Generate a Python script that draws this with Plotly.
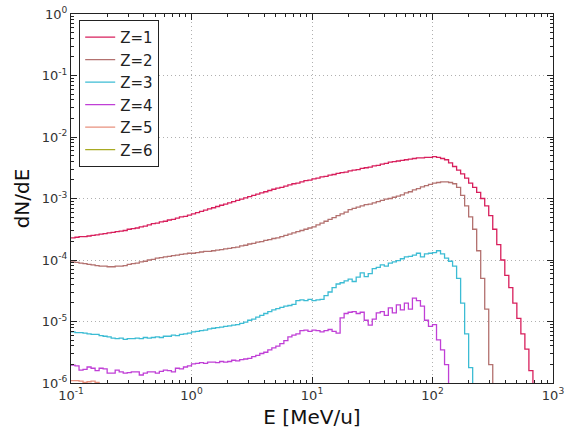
import numpy as np
import plotly.graph_objects as go

# Histogram binning: 30 log-spaced bins per decade from 0.1 to 1000 MeV/u
bin_edges = 10 ** np.linspace(-1, 3, 121)

# log10(dN/dE) per bin; bins after the list are empty
z1_log10 = [
    -3.64, -3.63, -3.62, -3.62, -3.61, -3.60, -3.59, -3.58, -3.57, -3.56,
    -3.55, -3.54, -3.53, -3.52, -3.50, -3.49, -3.48, -3.46, -3.45, -3.43,
    -3.41, -3.40, -3.38, -3.37, -3.35, -3.34, -3.32, -3.30, -3.29, -3.27,
    -3.25, -3.23, -3.21, -3.19, -3.17, -3.15, -3.13, -3.11, -3.09, -3.07,
    -3.05, -3.03, -3.01, -2.99, -2.97, -2.95, -2.93, -2.91, -2.89, -2.87,
    -2.85, -2.83, -2.82, -2.80, -2.78, -2.76, -2.75, -2.73, -2.71, -2.70,
    -2.68, -2.67, -2.65, -2.64, -2.62, -2.61, -2.59, -2.58, -2.57, -2.55,
    -2.54, -2.53, -2.51, -2.50, -2.49, -2.47, -2.46, -2.44, -2.43, -2.41,
    -2.40, -2.39, -2.38, -2.37, -2.36, -2.35, -2.34, -2.34, -2.33, -2.33,
    -2.32, -2.33, -2.35, -2.37, -2.42, -2.48, -2.54, -2.60, -2.67, -2.75,
    -2.82, -2.90, -3.00, -3.12, -3.28, -3.50, -3.75, -4.00, -4.25, -4.45,
    -4.70, -4.95, -5.20, -5.45, -5.80,
]
z2_log10 = [
    -4.03, -4.04, -4.05, -4.06, -4.07, -4.08, -4.09, -4.10, -4.10, -4.11,
    -4.11, -4.10, -4.10, -4.09, -4.07, -4.06, -4.05, -4.03, -4.02, -4.00,
    -3.99, -3.97, -3.96, -3.95, -3.94, -3.93, -3.92, -3.91, -3.90, -3.89,
    -3.89, -3.88, -3.87, -3.86, -3.86, -3.85, -3.84, -3.83, -3.82, -3.81,
    -3.80, -3.79, -3.77, -3.76, -3.74, -3.73, -3.71, -3.70, -3.68, -3.67,
    -3.65, -3.64, -3.62, -3.60, -3.58, -3.56, -3.54, -3.52, -3.50, -3.48,
    -3.46, -3.43, -3.40, -3.37, -3.34, -3.31, -3.28, -3.25, -3.22, -3.18,
    -3.16, -3.14, -3.12, -3.10, -3.09, -3.07, -3.05, -3.03, -3.01, -3.00,
    -2.98, -2.96, -2.94, -2.91, -2.89, -2.86, -2.84, -2.81, -2.79, -2.77,
    -2.75, -2.74, -2.73, -2.73, -2.74, -2.76, -2.82, -2.95, -3.12, -3.30,
    -3.50, -3.85, -4.30, -4.80, -5.70,
]
z3_log10 = [
    -5.17, -5.18, -5.18, -5.19, -5.20, -5.21, -5.21, -5.23, -5.24, -5.25,
    -5.27, -5.28, -5.27, -5.29, -5.28, -5.28, -5.27, -5.28, -5.26, -5.27,
    -5.26, -5.25, -5.26, -5.24, -5.24, -5.22, -5.23, -5.21, -5.20, -5.19,
    -5.17, -5.16, -5.15, -5.14, -5.12, -5.11, -5.10, -5.09, -5.08, -5.07,
    -5.06, -5.05, -5.03, -5.01, -4.98, -4.96, -4.93, -4.90, -4.87, -4.84,
    -4.81, -4.79, -4.77, -4.75, -4.74, -4.72, -4.66, -4.65, -4.66, -4.64,
    -4.66, -4.65, -4.64, -4.58, -4.52, -4.45, -4.39, -4.37, -4.34, -4.31,
    -4.35, -4.28, -4.21, -4.27, -4.22, -4.14, -4.12, -4.08, -4.10, -4.05,
    -4.03, -4.01, -3.98, -3.95, -3.94, -3.92, -3.89, -3.95, -3.90, -3.89,
    -3.88, -3.85, -3.90, -3.97, -4.02, -4.10, -4.30, -4.70, -5.20, -5.75,
]
z4_log10 = [
    -5.71, -5.72, -5.79, -5.78, -5.74, -5.76, -5.80, -5.76, -5.77, -5.84,
    -5.84, -5.79, -5.82, -5.84, -5.83, -5.82, -5.82, -5.87, -5.84, -5.82,
    -5.82, -5.84, -5.81, -5.79, -5.80, -5.82, -5.76, -5.77, -5.74, -5.72,
    -5.69, -5.68, -5.67, -5.68, -5.66, -5.66, -5.67, -5.65, -5.66, -5.65,
    -5.63, -5.64, -5.62, -5.61, -5.60, -5.57, -5.55, -5.52, -5.50, -5.46,
    -5.43, -5.40, -5.36, -5.31, -5.25, -5.22, -5.20, -5.15, -5.14, -5.16,
    -5.14, -5.15, -5.17, -5.15, -5.13, -5.16, -5.19, -4.94, -4.87, -4.85,
    -4.84, -4.87, -4.85, -4.98, -5.06, -4.96, -4.86, -4.84, -4.90, -4.78,
    -4.86, -4.73, -4.81, -4.70, -4.80, -4.62, -4.66, -4.75, -4.98, -5.08,
    -5.05, -5.30, -5.46, -5.70,
]
z5_log10 = [-5.96, -5.96, -5.97, -5.99, -5.98, -5.97, -5.99]
z6_log10 = []

series_names = ["Z=1", "Z=2", "Z=3", "Z=4", "Z=5", "Z=6"]
series_data = [z1_log10, z2_log10, z3_log10, z4_log10, z5_log10, z6_log10]
series_colors = ["#d81f5c", "#b3716f", "#3cbcd4", "#c03fd6", "#e8917e", "#a8aa22"]

x_tick_vals = [0.1, 1, 10, 100, 1000]
x_tick_text = ["10<sup>-1</sup>", "10<sup>0</sup>", "10<sup>1</sup>", "10<sup>2</sup>", "10<sup>3</sup>"]
y_tick_vals = [1e-6, 1e-5, 1e-4, 1e-3, 1e-2, 1e-1, 1]
y_tick_text = ["10<sup>-6</sup>", "10<sup>-5</sup>", "10<sup>-4</sup>", "10<sup>-3</sup>",
               "10<sup>-2</sup>", "10<sup>-1</sup>", "10<sup>0</sup>"]

n_bins = len(bin_edges) - 1
fig = go.Figure()
for name, logv, col in zip(series_names, series_data, series_colors):
    vals = np.zeros(n_bins)
    vals[:len(logv)] = 10 ** np.array(logv, dtype=float)
    y = np.where(vals > 0, vals, 1e-12)  # empty bins fall off the log axis
    y = np.append(y, y[-1])
    fig.add_trace(go.Scatter(x=bin_edges, y=y, mode="lines", name=name,
                             line=dict(color=col, width=1.3, shape="hv")))

def minor_vals(lo, hi):
    out = []
    for d in range(lo, hi):
        for m in range(2, 10):
            out.append(m * 10.0 ** d)
    return out

axis_common = dict(
    type="log", showline=True, linecolor="#222", linewidth=1, mirror="allticks",
    ticks="inside", ticklen=6, tickwidth=1, tickcolor="#222",
    showgrid=True, gridcolor="#b0b0b0", griddash="1px,3px", gridwidth=1,
    zeroline=False, tickfont=dict(size=13, color="#333"), automargin=False,
)

fig.update_xaxes(range=[-1, 3], tickvals=x_tick_vals, ticktext=x_tick_text,
                 minor=dict(ticks="inside", ticklen=3, tickcolor="#222",
                            tickvals=minor_vals(-1, 3), showgrid=False),
                 title=dict(text="E [MeV/u]", font=dict(size=20, color="#111"), standoff=8),
                 **axis_common)
fig.update_yaxes(range=[-6, 0], tickvals=y_tick_vals, ticktext=y_tick_text,
                 minor=dict(ticks="inside", ticklen=3, tickcolor="#222",
                            tickvals=minor_vals(-6, 0), showgrid=False),
                 title=dict(text="dN/dE", font=dict(size=20, color="#111"), standoff=6),
                 **axis_common)

fig.update_layout(
    width=565, height=436,
    margin=dict(l=71, r=12, t=14, b=53),
    paper_bgcolor="white", plot_bgcolor="white",
    font=dict(family="DejaVu Sans", color="#222"),
    showlegend=True,
    legend=dict(x=0.017, y=0.984, xanchor="left", yanchor="top",
                bgcolor="white", bordercolor="#222", borderwidth=1,
                font=dict(size=15, color="#222"), tracegroupgap=0,
                itemwidth=30),
)

fig.write_html("out.html")
